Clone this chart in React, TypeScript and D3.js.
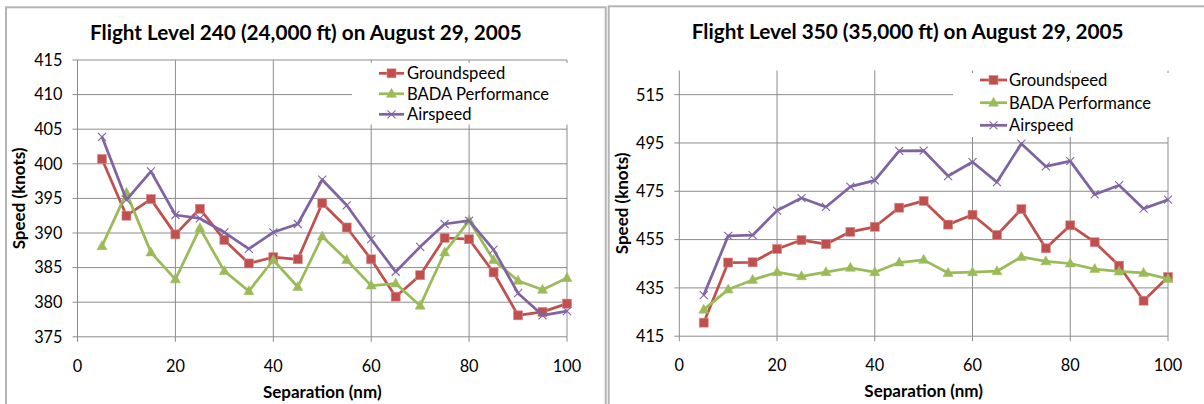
import React from "react";
import * as d3 from "d3";

// Separation distances (nm) shared by both flight levels
const separationNm = [5, 10, 15, 20, 25, 30, 35, 40, 45, 50, 55, 60, 65, 70, 75, 80, 85, 90, 95, 100];

// Flight Level 240 speeds (knots)
const fl240Groundspeed = [400.7, 392.5, 394.9, 389.8, 393.5, 389.0, 385.6, 386.5, 386.2, 394.3, 390.8, 386.2, 380.8, 383.9, 389.3, 389.1, 384.3, 378.1, 378.6, 379.8];
const fl240Bada = [388.1, 395.8, 387.2, 383.3, 390.7, 384.5, 381.6, 386.1, 382.2, 389.5, 386.1, 382.4, 382.7, 379.5, 387.2, 391.8, 386.1, 383.1, 381.8, 383.5];
const fl240Airspeed = [403.9, 394.8, 398.9, 392.6, 392.1, 390.1, 387.7, 390.1, 391.3, 397.7, 394.0, 389.1, 384.4, 388.0, 391.3, 391.8, 387.6, 381.3, 378.1, 378.7];

// Flight Level 350 speeds (knots)
const fl350Groundspeed = [420.6, 445.5, 445.6, 451.1, 454.8, 453.1, 458.2, 460.3, 468.2, 471.0, 461.2, 465.3, 456.9, 467.6, 451.4, 460.9, 453.9, 444.2, 429.7, 439.5];
const fl350Bada = [426.0, 434.3, 438.3, 441.5, 439.8, 441.5, 443.3, 441.5, 445.5, 446.6, 441.2, 441.5, 441.9, 447.8, 446.0, 445.1, 442.8, 441.8, 441.2, 438.7];
const fl350Airspeed = [432.0, 456.5, 456.8, 467.0, 472.2, 468.5, 476.9, 479.5, 491.7, 491.8, 481.3, 487.1, 478.8, 494.7, 485.3, 487.5, 473.7, 477.5, 467.8, 471.5];

// Axis ticks
const xTicks = [0, 20, 40, 60, 80, 100];
const fl240YTicks = [375, 380, 385, 390, 395, 400, 405, 410, 415];
const fl350YTicks = [415, 435, 455, 475, 495, 515];

// Series labels and colours
const seriesNames = ["Groundspeed", "BADA Performance", "Airspeed"];
const seriesColors = ["#C0504D", "#9BBB59", "#8064A2"];
const markerKinds = ["square", "triangle", "cross"];

const FONT = "Lato, 'Open Sans', sans-serif";
const GRID = "#8c8c8c";

type Rect = { left: number; right: number; top: number; bottom: number };

type ChartProps = {
  title: string;
  panel: Rect;
  plot: Rect;
  titleY: number;
  yDomain: [number, number];
  yTicks: number[];
  series: number[][];
  legend: { boxX: number; boxY: number; boxW: number; boxH: number; lineX0: number; lineX1: number; textX: number; rowY: number[] };
  yLabelX: number;
};

function Marker({ kind, x, y, color }: { kind: string; x: number; y: number; color: string }) {
  if (kind === "square") {
    return <rect x={x - 4.5} y={y - 4.5} width={9} height={9} fill={color} stroke="#d98c8a" strokeWidth={0.6} />;
  }
  if (kind === "triangle") {
    const p = d3.path();
    p.moveTo(x, y - 5.5);
    p.lineTo(x + 5, y + 3.5);
    p.lineTo(x - 5, y + 3.5);
    p.closePath();
    return <path d={p.toString()} fill={color} stroke={color} strokeWidth={0.5} />;
  }
  const s = 4;
  return (
    <g stroke={color} strokeWidth={1.1}>
      <line x1={x - s} y1={y - s} x2={x + s} y2={y + s} />
      <line x1={x - s} y1={y + s} x2={x + s} y2={y - s} />
    </g>
  );
}

function Chart({ title, panel, plot, titleY, yDomain, yTicks, series, legend, yLabelX }: ChartProps) {
  const x = d3.scaleLinear().domain([0, 100]).range([plot.left, plot.right]);
  const y = d3.scaleLinear().domain(yDomain).range([plot.bottom, plot.top]);
  const line = d3
    .line<number>()
    .x((_, i) => x(separationNm[i]))
    .y((d) => y(d));
  const cx = (panel.left + panel.right) / 2;
  const plotMidY = (plot.top + plot.bottom) / 2;

  return (
    <g>
      <rect
        x={panel.left}
        y={panel.top}
        width={panel.right - panel.left}
        height={panel.bottom - panel.top}
        fill="#ffffff"
        stroke="#b4b4b4"
        strokeWidth={2}
      />
      <text x={cx} y={titleY} textAnchor="middle" fontFamily={FONT} fontWeight={700} fontSize={20.7} fill="#000">
        {title}
      </text>

      {/* horizontal gridlines and y ticks */}
      {yTicks.map((t) => (
        <g key={"y" + t}>
          {t !== yDomain[0] && (
            <line x1={plot.left} x2={plot.right} y1={y(t)} y2={y(t)} stroke={GRID} strokeWidth={1} />
          )}
          <line x1={plot.left - 5} x2={plot.left} y1={y(t)} y2={y(t)} stroke={GRID} strokeWidth={1} />
          <text x={plot.left - 15} y={y(t)} dy="0.36em" textAnchor="end" fontFamily={FONT} fontSize={16.3} fill="#000">
            {t}
          </text>
        </g>
      ))}

      {/* vertical gridlines and x ticks */}
      {xTicks.map((t) => (
        <g key={"x" + t}>
          {t !== 0 && <line x1={x(t)} x2={x(t)} y1={plot.top} y2={plot.bottom} stroke={GRID} strokeWidth={1} />}
          <line x1={x(t)} x2={x(t)} y1={plot.bottom} y2={plot.bottom + 5} stroke={GRID} strokeWidth={1} />
          <text x={x(t)} y={plot.bottom + 35} textAnchor="middle" fontFamily={FONT} fontSize={16.3} fill="#000">
            {t}
          </text>
        </g>
      ))}

      {/* axes */}
      <line x1={plot.left} x2={plot.left} y1={plot.top} y2={plot.bottom} stroke={GRID} strokeWidth={1} />
      <line x1={plot.left} x2={plot.right} y1={plot.bottom} y2={plot.bottom} stroke={GRID} strokeWidth={1} />

      {/* legend background covers the gridlines behind it */}
      <rect x={legend.boxX} y={legend.boxY} width={legend.boxW} height={legend.boxH} fill="#ffffff" />

      {series.map((vals, si) => (
        <g key={"s" + si}>
          <path d={line(vals) ?? ""} fill="none" stroke={seriesColors[si]} strokeWidth={2.75} strokeLinejoin="round" />
          {vals.map((v, i) => (
            <Marker key={i} kind={markerKinds[si]} x={x(separationNm[i])} y={y(v)} color={seriesColors[si]} />
          ))}
        </g>
      ))}

      {seriesNames.map((name, si) => {
        const ly = legend.rowY[si];
        return (
          <g key={"l" + si}>
            <line x1={legend.lineX0} x2={legend.lineX1} y1={ly} y2={ly} stroke={seriesColors[si]} strokeWidth={2.75} />
            <Marker kind={markerKinds[si]} x={(legend.lineX0 + legend.lineX1) / 2} y={ly} color={seriesColors[si]} />
            <text x={legend.textX} y={ly} dy="0.36em" fontFamily={FONT} fontSize={16.6} fill="#000">
              {name}
            </text>
          </g>
        );
      })}

      <text
        transform={`translate(${yLabelX},${plotMidY}) rotate(-90)`}
        textAnchor="middle"
        dy="0.35em"
        fontFamily={FONT}
        fontWeight={700}
        fontSize={17}
        fill="#000"
      >
        Speed (knots)
      </text>
      <text
        x={(plot.left + plot.right) / 2}
        y={plot.bottom + 61}
        textAnchor="middle"
        fontFamily={FONT}
        fontWeight={700}
        fontSize={17}
        fill="#000"
      >
        Separation (nm)
      </text>
    </g>
  );
}

export default function App() {
  return (
    <svg
      width={1204}
      height={404}
      viewBox="0 0 1204 404"
      style={{ position: "absolute", left: 0, top: 0, display: "block", background: "#ffffff" }}
    >
      <Chart
        title="Flight Level 240 (24,000 ft) on August 29, 2005"
        panel={{ left: 6, right: 605.7, top: 7.3, bottom: 430 }}
        plot={{ left: 77.5, right: 567, top: 60, bottom: 336.8 }}
        titleY={39.5}
        yDomain={[375, 415]}
        yTicks={fl240YTicks}
        series={[fl240Groundspeed, fl240Bada, fl240Airspeed]}
        legend={{ boxX: 352, boxY: 63, boxW: 222, boxH: 61.5, lineX0: 379, lineX1: 404, textX: 407, rowY: [73.3, 93.8, 114.3] }}
        yLabelX={19.5}
      />
      <Chart
        title="Flight Level 350 (35,000 ft) on August 29, 2005"
        panel={{ left: 608.7, right: 1206.7, top: 6.3, bottom: 430 }}
        plot={{ left: 679.3, right: 1168, top: 70.5, bottom: 336.2 }}
        titleY={38.5}
        yDomain={[415, 525]}
        yTicks={fl350YTicks}
        series={[fl350Groundspeed, fl350Bada, fl350Airspeed]}
        legend={{ boxX: 953, boxY: 73, boxW: 222, boxH: 64, lineX0: 980, lineX1: 1007, textX: 1009, rowY: [80, 102.7, 125.3] }}
        yLabelX={622.5}
      />
    </svg>
  );
}
